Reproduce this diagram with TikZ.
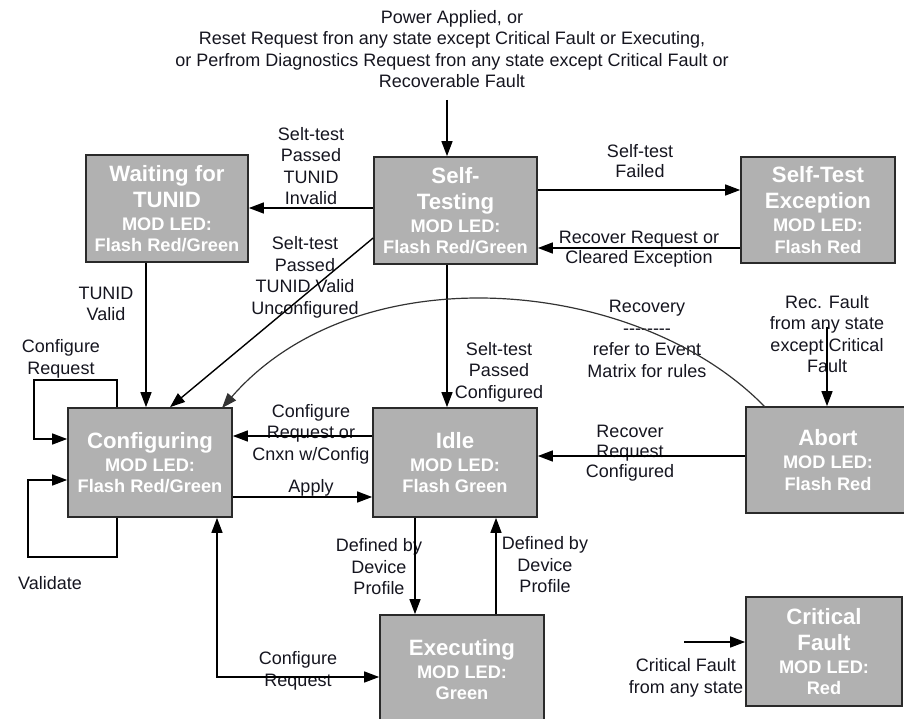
\documentclass[tikz,border=0pt]{standalone}
\usepackage{fontspec}
\setmainfont{Liberation Sans}
\usetikzlibrary{arrows.meta}
\definecolor{boxfill}{HTML}{B1B1B1}
\definecolor{boxline}{HTML}{2A2A2A}
\definecolor{inktext}{HTML}{15151F}
% state box text helpers
\newcommand\sttitle[1]{{\fontsize{22.2}{26}\selectfont\bfseries #1}}
\newcommand\dashline{-\kern0pt-\kern0pt-\kern0pt-\kern0pt-\kern0pt-\kern0pt-\kern0pt-}
\begin{document}
\begin{tikzpicture}[x=1pt,y=-1pt,
  state/.style={draw=boxline, line width=1.7pt, fill=boxfill, text=white,
    align=center, inner sep=0pt, font=\fontsize{18.2}{21.5}\selectfont\bfseries},
  lbl/.style={align=center, inner sep=0pt, text=inktext,
    font=\fontsize{18}{21.5}\selectfont},
  tightlbl/.style={lbl, font=\fontsize{18}{20}\selectfont},
  tip/.style={-{Triangle[length=15pt,width=11pt]}},
  arr/.style={line width=1.4pt, draw=black, tip},
  dblarr/.style={line width=1.4pt, draw=black,
    {Triangle[length=15pt,width=11pt]}-{Triangle[length=15pt,width=11pt]}},
  arc/.style={line width=1.2pt, draw=black!80, tip}]
\useasboundingbox (0,0) rectangle (904,719);

% ---- states ----
\node[state, minimum width=162pt, minimum height=107pt] (wait) at (167,208.5)
  {\sttitle{Waiting for}\\[4.5pt]\sttitle{TUNID}\\[1.5pt]MOD LED:\\Flash Red/Green};
\node[state, minimum width=163pt, minimum height=107pt] (self) at (455.5,210.5)
  {\sttitle{Self-}\\[4.5pt]\sttitle{Testing}\\[1.5pt]MOD LED:\\Flash Red/Green};
\node[state, minimum width=154pt, minimum height=106pt] (exc) at (818,210)
  {\sttitle{Self-Test}\\[4.5pt]\sttitle{Exception}\\[1.5pt]MOD LED:\\Flash Red};
\node[state, minimum width=164pt, minimum height=109pt] (cfg) at (150,462.5)
  {\sttitle{Configuring}\\[1.5pt]MOD LED:\\Flash Red/Green};
\node[state, minimum width=164pt, minimum height=109pt] (idle) at (455,462.5)
  {\sttitle{Idle}\\[1.5pt]MOD LED:\\Flash Green};
\node[state, minimum width=164pt, minimum height=106pt] (abort) at (828,460)
  {\sttitle{Abort}\\[1.5pt]MOD LED:\\Flash Red};
\node[state, minimum width=164pt, minimum height=109pt] (exec) at (462,669.5)
  {\sttitle{Executing}\\[1.5pt]MOD LED:\\Green};
\node[state, minimum width=156pt, minimum height=109pt] (crit) at (824,651.5)
  {\sttitle{Critical}\\[4.5pt]\sttitle{Fault}\\[1.5pt]MOD LED:\\Red};

% ---- labels ----
\node[lbl] (power) at (452,49) {Power Applied, or\\Reset Request fron any state except Critical Fault or Executing,\\or Perfrom Diagnostics Request fron any state except Critical Fault or\\Recoverable Fault};
\node[lbl] (lInvalid) at (311,166) {Selt-test\\Passed\\TUNID\\Invalid};
\node[tightlbl] (lFailed) at (640,161) {Self-test\\Failed};
\node[tightlbl] (lRecEx) at (639,249) {Recover Request or\\Cleared Exception};
\node[lbl] (lUnconf) at (305,277.5) {Selt-test\\Passed\\TUNID Valid\\Unconfigured};
\node[lbl] (lTValid) at (106,304) {TUNID\\Valid};
\node[lbl] (lCfgReq) at (61,359) {Configure\\Request};
\node[lbl] (lValidate) at (50,583) {Validate};
\node[lbl] (lCnxn) at (311,434) {Configure\\Request or\\Cnxn w/Config};
\node[lbl] (lApply) at (311,488) {Apply};
\node[lbl] (lConfd) at (499,372) {Selt-test\\Passed\\Configured};
\node[lbl] (lRecovery) at (647,339) {Recovery\\\dashline\\refer to Event\\Matrix for rules};
\node[lbl] (lRecFault) at (827,334) {Rec. Fault\\from any state\\except Critical\\Fault};
\node[tightlbl] (lRecReq) at (630,453) {Recover\\Request\\Configured};
\node[lbl] (lDevA) at (379,567) {Defined by\\Device\\Profile};
\node[lbl] (lDevB) at (545,565) {Defined by\\Device\\Profile};
\node[lbl] (lExReq) at (298,671) {Configure\\Request};
\node[lbl] (lCrit) at (686,678) {Critical Fault\\from any state};

% ---- helper coordinates for connector levels ----
\coordinate (pwrTop) at (447,100);
\coordinate (y190) at (0,190);
\coordinate (y208) at (0,208);
\coordinate (y238) at (0,238);
\coordinate (y248) at (0,248);
\coordinate (y436) at (0,436);
\coordinate (y456) at (0,456);
\coordinate (y497) at (0,497);
\coordinate (y439) at (0,439);
\coordinate (y480) at (0,480);
\coordinate (y677) at (0,677);
\coordinate (x117) at (117,0);
\coordinate (x146) at (146,0);
\coordinate (x170) at (170,0);
\coordinate (x217) at (217,0);
\coordinate (x415) at (415,0);
\coordinate (x496) at (496,0);
\coordinate (recTop) at (827,327);
\coordinate (critStart) at (684,642);

% ---- connectors ----
\draw[arr] (pwrTop) -- (self.north -| pwrTop);
\draw[arr] (self.west |- y208) -- (wait.east |- y208);
\draw[arr] (self.east |- y190) -- (exc.west |- y190);
\draw[arr] (exc.west |- y248) -- (self.east |- y248);
\draw[arr] (self.west |- y238) -- (cfg.north -| x170);
\draw[arr] (wait.south -| x146) -- (cfg.north -| x146);
\draw[arr] (self.south -| pwrTop) -- (idle.north -| pwrTop);
\draw[arc] (765,407) .. controls (640,278) and (360,250) .. (222,408);
\draw[arr] (idle.west |- y436) -- (cfg.east |- y436);
\draw[arr] (cfg.east |- y497) -- (idle.west |- y497);
\draw[arr] (cfg.north -| x117) -- (117,380) -- (34,380) -- (34,439) -- (cfg.west |- y439);
\draw[arr] (cfg.south -| x117) -- (117,557) -- (28,557) -- (28,480) -- (cfg.west |- y480);
\draw[arr] (abort.west |- y456) -- (idle.east |- y456);
\draw[arr] (recTop) -- (abort.north -| recTop);
\draw[arr] (idle.south -| x415) -- (exec.north -| x415);
\draw[arr] (exec.north -| x496) -- (idle.south -| x496);
\draw[dblarr] (exec.west |- y677) -- (217,677) -- (cfg.south -| x217);
\draw[arr] (critStart) -- (crit.west |- critStart);
\end{tikzpicture}
\end{document}
